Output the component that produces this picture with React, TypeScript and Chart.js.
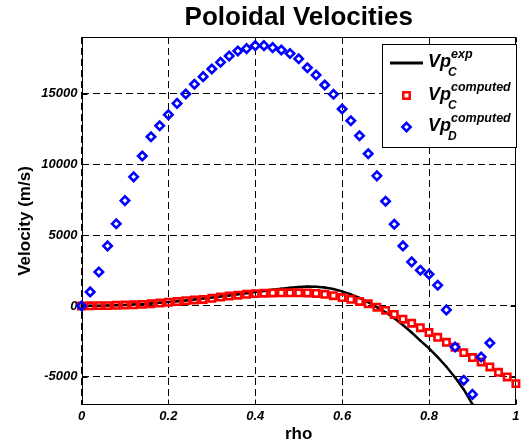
import React, { useEffect, useRef } from 'react';
import { Chart, registerables } from 'chart.js';

Chart.register(...registerables);

const RHO = [
  0, 0.02, 0.04, 0.06, 0.08, 0.1, 0.12, 0.14, 0.16, 0.18,
  0.2, 0.22, 0.24, 0.26, 0.28, 0.3, 0.32, 0.34, 0.36, 0.38,
  0.4, 0.42, 0.44, 0.46, 0.48, 0.5, 0.52, 0.54, 0.56, 0.58,
  0.6, 0.62, 0.64, 0.66, 0.68, 0.7, 0.72, 0.74, 0.76, 0.78,
  0.8, 0.82, 0.84, 0.86, 0.88, 0.9, 0.92, 0.94, 0.96, 0.98, 1,
];

const VP_C_EXP = [
  0, 10, 20, 30, 50, 70, 100, 130, 170, 220,
  270, 330, 390, 450, 520, 590, 660, 740, 820, 900,
  980, 1060, 1140, 1220, 1290, 1340, 1370, 1360, 1300, 1190,
  1030, 820, 560, 260, -80, -450, -870, -1350, -1880, -2450,
  -3000, -3620, -4300, -5050, -5900, -6950, -7950,
];

const VP_C_COMPUTED = [
  0, 10, 20, 20, 40, 60, 80, 110, 150, 200,
  260, 310, 370, 420, 460, 540, 630, 700, 760, 820,
  870, 900, 920, 930, 930, 930, 920, 880, 820, 720,
  590, 470, 320, 150, -90, -315, -600, -940, -1220, -1540,
  -1880, -2220, -2570, -2920, -3300, -3650, -3960, -4310, -4690, -5020, -5490,
];

const VP_D_COMPUTED = [
  0, 990, 2400, 4240, 5800, 7440, 9120, 10590, 11950, 12730,
  13510, 14310, 14970, 15660, 16200, 16740, 17210, 17660, 18010, 18180,
  18390, 18390, 18250, 18080, 17830, 17460, 16830, 16310, 15610, 14950,
  13910, 13080, 12020, 10750, 9190, 7400, 5770, 4240, 3110, 2520,
  2240, 1460, -280, -2900, -5250, -6250, -3610, -2620,
];

const X_TICKS = [0, 0.2, 0.4, 0.6, 0.8, 1];
const Y_TICKS = [-5000, 0, 5000, 10000, 15000];
const X_MIN = 0;
const X_MAX = 1;
const Y_MIN = -7000;
const Y_MAX = 19000;

const TITLE = 'Poloidal Velocities';
const X_TITLE = 'rho';
const Y_TITLE = 'Velocity (m/s)';
const LEGEND_BASE = ['Vp', 'Vp', 'Vp'];
const LEGEND_SUP = ['exp', 'computed', 'computed'];
const LEGEND_SUB = ['C', 'C', 'D'];

const FONT = '"Liberation Sans", Arial, Helvetica, sans-serif';

function toPoints(values: number[]) {
  return values.map((v, i) => ({ x: RHO[i], y: v }));
}

const decorPlugin = {
  id: 'decor',
  beforeDatasetsDraw(chart: any) {
    const { ctx, chartArea } = chart;
    const { left, right, top, bottom } = chartArea;
    const xs = chart.scales.x;
    const ys = chart.scales.y;
    ctx.save();
    ctx.strokeStyle = '#000';
    ctx.lineWidth = 1;
    ctx.setLineDash([]);
    const L = Math.round(left) + 0.5;
    const R = Math.round(right) - 0.5;
    const T = Math.round(top) + 0.5;
    const B = Math.round(bottom) - 0.5;
    ctx.strokeRect(L, T, R - L, B - T);
    const tl = 5;
    ctx.beginPath();
    X_TICKS.forEach((v) => {
      const px = Math.round(xs.getPixelForValue(v)) + 0.5;
      ctx.moveTo(px, B);
      ctx.lineTo(px, B - tl);
      ctx.moveTo(px, T);
      ctx.lineTo(px, T + tl);
    });
    Y_TICKS.forEach((v) => {
      const py = Math.round(ys.getPixelForValue(v)) + 0.5;
      ctx.moveTo(L, py);
      ctx.lineTo(L + tl, py);
      ctx.moveTo(R, py);
      ctx.lineTo(R - tl, py);
    });
    ctx.stroke();
    ctx.restore();
  },
  afterDraw(chart: any) {
    const { ctx, chartArea } = chart;
    const cx = (chartArea.left + chartArea.right) / 2;
    const cy = (chartArea.top + chartArea.bottom) / 2;
    ctx.save();
    ctx.fillStyle = '#000';
    ctx.textAlign = 'center';
    ctx.textBaseline = 'alphabetic';
    ctx.font = `bold 26px ${FONT}`;
    ctx.fillText(TITLE, cx, 25);
    ctx.font = `bold 17px ${FONT}`;
    ctx.fillText(X_TITLE, cx, 439);
    ctx.save();
    ctx.translate(29.5, cy);
    ctx.rotate(-Math.PI / 2);
    ctx.fillText(Y_TITLE, 0, 0);
    ctx.restore();

    // legend
    const bx = 382.5, by = 44.5, bw = 134, bh = 103;
    ctx.fillStyle = '#fff';
    ctx.fillRect(bx, by, bw, bh);
    ctx.strokeStyle = '#000';
    ctx.lineWidth = 1;
    ctx.strokeRect(bx, by, bw, bh);
    const rows = [63, 95.5, 127];
    const mx = 406.5;
    rows.forEach((ry, i) => {
      if (i === 0) {
        ctx.strokeStyle = '#000';
        ctx.lineWidth = 3;
        ctx.beginPath();
        ctx.moveTo(390, ry);
        ctx.lineTo(423, ry);
        ctx.stroke();
      } else if (i === 1) {
        ctx.strokeStyle = '#ff0000';
        ctx.lineWidth = 2.5;
        const s = 3.2;
        ctx.strokeRect(mx - s, ry - s, 2 * s, 2 * s);
      } else {
        ctx.strokeStyle = '#0000ff';
        ctx.lineWidth = 2.5;
        const r = 4.2;
        ctx.beginPath();
        ctx.moveTo(mx, ry - r);
        ctx.lineTo(mx + r, ry);
        ctx.lineTo(mx, ry + r);
        ctx.lineTo(mx - r, ry);
        ctx.closePath();
        ctx.stroke();
      }
      ctx.fillStyle = '#000';
      ctx.textAlign = 'left';
      ctx.font = `italic bold 18px ${FONT}`;
      const tx = 428;
      ctx.fillText(LEGEND_BASE[i], tx, ry + 4);
      const w = ctx.measureText(LEGEND_BASE[i]).width;
      ctx.font = `italic bold 12.5px ${FONT}`;
      ctx.fillText(LEGEND_SUP[i], tx + w, ry - 5);
      ctx.font = `italic bold 12px ${FONT}`;
      ctx.fillText(LEGEND_SUB[i], tx + w - 3, ry + 13);
    });
    ctx.restore();
  },
};

export default function App() {
  const ref = useRef<HTMLCanvasElement | null>(null);

  useEffect(() => {
    if (!ref.current) return;
    const chart = new Chart(ref.current, {
      type: 'line',
      data: {
        datasets: [
          {
            label: 'Vp_D computed',
            data: toPoints(VP_D_COMPUTED),
            showLine: false,
            pointStyle: 'rectRot',
            pointRadius: 4.2,
            pointBorderWidth: 2.6,
            pointBorderColor: '#0000ff',
            pointBackgroundColor: 'rgba(0,0,0,0)',
            borderColor: '#0000ff',
            order: 0,
            clip: { left: 8, right: 8, top: 0, bottom: 0 },
          },
          {
            label: 'Vp_C computed',
            data: toPoints(VP_C_COMPUTED),
            showLine: false,
            pointStyle: 'rect',
            pointRadius: 4.5,
            pointBorderWidth: 2.6,
            pointBorderColor: '#ff0000',
            pointBackgroundColor: 'rgba(0,0,0,0)',
            borderColor: '#ff0000',
            order: 1,
            clip: { left: 8, right: 8, top: 0, bottom: 0 },
          },
          {
            label: 'Vp_C exp',
            data: toPoints(VP_C_EXP),
            borderColor: '#000',
            borderWidth: 2.5,
            pointRadius: 1.2,
            pointBorderWidth: 0,
            pointBackgroundColor: '#000',
            pointStyle: 'circle',
            tension: 0,
            order: 2,
            clip: { left: 4, right: 4, top: 0, bottom: 0 },
          },
        ],
      } as any,
      options: {
        responsive: false,
        animation: false,
        events: [],
        layout: { padding: { left: 0, right: 2, top: 37, bottom: 0 } },
        plugins: {
          legend: { display: false },
          title: { display: false },
          tooltip: { enabled: false },
        },
        scales: {
          x: {
            type: 'linear',
            min: X_MIN,
            max: X_MAX,
            afterBuildTicks: (scale: any) => {
              scale.ticks = X_TICKS.map((v) => ({ value: v }));
            },
            afterFit: (scale: any) => {
              scale.height = 39;
              scale.paddingLeft = 0;
              scale.paddingRight = 0;
            },
            ticks: {
              padding: 4,
              color: '#000',
              maxRotation: 0,
              autoSkip: false,
              font: { family: FONT, size: 13, style: 'italic', weight: 'bold' },
              callback: (v: any) => String(Number(v)),
            },
            grid: { color: '#000', lineWidth: 1, drawTicks: false },
            border: { display: false, dash: [7, 4] },
          },
          y: {
            type: 'linear',
            min: Y_MIN,
            max: Y_MAX,
            afterBuildTicks: (scale: any) => {
              scale.ticks = Y_TICKS.map((v) => ({ value: v }));
            },
            afterFit: (scale: any) => {
              scale.width = 81.5;
              scale.paddingTop = 0;
              scale.paddingBottom = 0;
            },
            ticks: {
              padding: 4,
              color: '#000',
              autoSkip: false,
              font: { family: FONT, size: 13, style: 'italic', weight: 'bold' },
              callback: (v: any) => String(Number(v)),
            },
            grid: { color: '#000', lineWidth: 1, drawTicks: false },
            border: { display: false, dash: [7, 4] },
          },
        },
      } as any,
      plugins: [decorPlugin],
    });
    return () => chart.destroy();
  }, []);

  return (
    <div style={{ position: 'absolute', left: 0, top: 0, width: 523, height: 444, background: '#fff' }}>
      <canvas ref={ref} width={523} height={444} style={{ width: 523, height: 444, display: 'block' }} />
    </div>
  );
}
